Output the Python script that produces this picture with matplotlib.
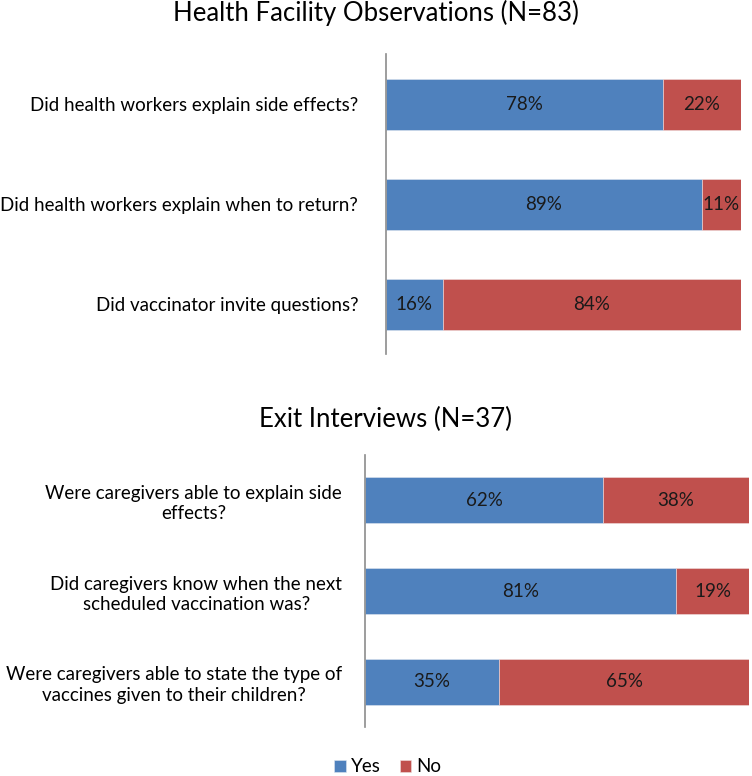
import matplotlib.pyplot as plt
import numpy as np

plt.rcParams["font.family"] = ["Lato", "DejaVu Sans"]

BLUE = "#4F81BD"
RED = "#C0504D"
SPINE = "#8C8C8C"

hf_questions = [
    "Did health workers explain side effects?",
    "Did health workers explain when to return?",
    "Did vaccinator invite questions?",
]
hf_yes = [78, 89, 16]
hf_no = [22, 11, 84]

exit_questions = [
    "Were caregivers able to explain side\neffects?",
    "Did caregivers know when the next\nscheduled vaccination was?",
    "Were caregivers able to state the type of\nvaccines given to their children?",
]
exit_yes = [62, 81, 35]
exit_no = [38, 19, 65]

FS = 13.5


def stacked_panel(ax, questions, yes, no, pad):
    y = np.arange(len(questions))
    b1 = ax.barh(y, yes, height=0.51, color=BLUE, edgecolor="#dfe6f0", linewidth=0.4, label="Yes")
    b2 = ax.barh(y, no, left=yes, height=0.51, color=RED, edgecolor="#f0dede", linewidth=0.4, label="No")
    ax.bar_label(b1, labels=[f"{v}%" for v in yes], label_type="center", fontsize=FS, color="#1a1a1a")
    ax.bar_label(b2, labels=[f"{v}%" for v in no], label_type="center", fontsize=FS, color="#1a1a1a")
    ax.set_xlim(0, 100)
    ax.set_ylim(len(questions) - 0.5, -0.5)
    ax.set_yticks(y)
    ax.set_yticklabels(questions, fontsize=FS, linespacing=1.25)
    for lab in ax.get_yticklabels():
        lab.set_multialignment("center")
    ax.tick_params(axis="y", length=0, pad=pad)
    ax.set_xticks([])
    for s in ["top", "right", "bottom"]:
        ax.spines[s].set_visible(False)
    ax.spines["left"].set_color(SPINE)
    ax.spines["left"].set_linewidth(1.2)
    return b1, b2


fig = plt.figure(figsize=(7.52, 7.76), dpi=100)

ax1 = fig.add_axes([0.5133, 0.5438, 0.4721, 0.3866])
ax2 = fig.add_axes([0.4854, 0.0631, 0.5106, 0.3505])

h1, h2 = stacked_panel(ax1, hf_questions, hf_yes, hf_no, pad=20)
stacked_panel(ax2, exit_questions, exit_yes, exit_no, pad=16.5)

fig.text(0.5, 0.973, "Health Facility Observations (N=83)", ha="center", va="baseline", fontsize=18.5)
fig.text(0.512, 0.4497, "Exit Interviews (N=37)", ha="center", va="baseline", fontsize=18.5)

fig.legend([h1, h2], ["Yes", "No"], loc="center", bbox_to_anchor=(0.516, 0.0116),
           ncol=2, frameon=False, fontsize=FS, handlelength=0.6, handleheight=0.6,
           handletextpad=0.3, columnspacing=1.0)

fig.savefig("out.png", dpi=100)
